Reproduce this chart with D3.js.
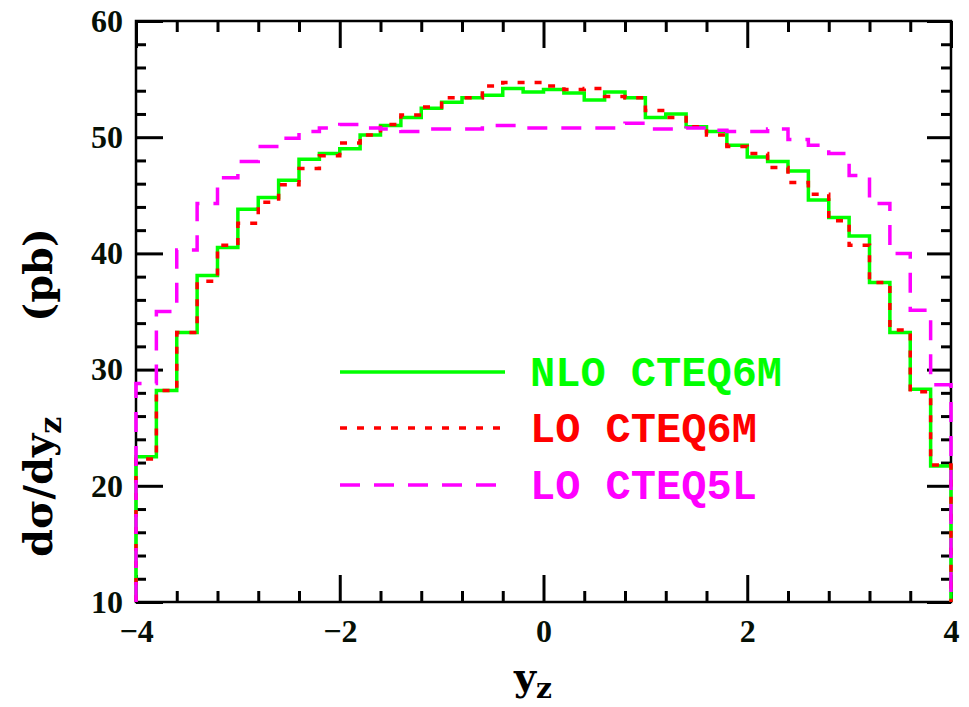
<!DOCTYPE html>
<html lang="en">
<head>
<meta charset="UTF-8">
<title>dsigma/dyz</title>
<style>
    body { margin: 0; background: #fff; }
    .tick text { font-family: "Liberation Serif", serif; font-weight: bold; font-size: 32px; fill: #061006; }
    .legend text { font-family: "Liberation Mono", monospace; font-weight: bold; font-size: 42px; }
    .title { font-family: "DejaVu Serif", serif; font-weight: bold; fill: #000; }
</style>
<script src="https://d3js.org/d3.v7.min.js"></script>
</head>
<body>
<div id="chart"></div>
<script>
    // bin edges in y_Z
    const binEdges = [-4.0, -3.8, -3.6, -3.4, -3.2, -3.0, -2.8, -2.6, -2.4, -2.2, -2.0,
                      -1.8, -1.6, -1.4, -1.2, -1.0, -0.8, -0.6, -0.4, -0.2, 0.0,
                      0.2, 0.4, 0.6, 0.8, 1.0, 1.2, 1.4, 1.6, 1.8, 2.0,
                      2.2, 2.4, 2.6, 2.8, 3.0, 3.2, 3.4, 3.6, 3.8, 4.0];

    // d sigma / d y_Z (pb) per bin
    const nloCteq6m = [22.5, 28.2, 33.2, 38.1, 40.5, 43.8, 44.8, 46.3, 48.1, 48.6,
                       49.0, 50.2, 51.0, 51.7, 52.5, 53.0, 53.4, 53.6, 54.2, 53.9,
                       54.1, 53.8, 53.2, 53.9, 53.4, 51.7, 52.0, 50.9, 50.5, 49.3,
                       48.3, 47.9, 47.1, 44.6, 43.1, 41.5, 37.5, 33.2, 28.3, 21.7];
    const loCteq6m  = [22.3, 28.2, 33.2, 37.6, 40.7, 42.6, 44.4, 45.9, 47.3, 48.4,
                       49.5, 50.2, 51.1, 51.9, 52.6, 53.4, 53.4, 54.4, 54.7, 54.7,
                       54.4, 54.1, 54.2, 53.5, 53.4, 52.3, 51.7, 50.9, 50.2, 49.2,
                       48.6, 47.4, 46.1, 45.1, 42.8, 40.7, 37.5, 33.4, 28.1, 21.8];
    const loCteq5l  = [28.8, 35.0, 40.3, 44.3, 46.5, 47.9, 49.2, 49.9, 50.5, 50.8,
                       51.1, 50.8, 50.7, 50.5, 50.7, 50.7, 50.7, 51.0, 51.0, 50.8,
                       50.8, 50.8, 50.8, 50.8, 51.2, 50.7, 50.7, 50.8, 50.6, 50.5,
                       50.5, 50.7, 49.8, 49.3, 48.6, 46.7, 44.3, 40.0, 35.1, 28.7];

    const seriesNames = ["NLO CTEQ6M", "LO CTEQ6M", "LO CTEQ5L"];

    const xMajor = [-4, -2, 0, 2, 4];
    const xMinor = [-3.6, -3.2, -2.8, -2.4, -1.6, -1.2, -0.8, -0.4, 0.4, 0.8, 1.2, 1.6, 2.4, 2.8, 3.2, 3.6];
    const yMajor = [10, 20, 30, 40, 50, 60];
    const yMinor = [12, 14, 16, 18, 22, 24, 26, 28, 32, 34, 36, 38, 42, 44, 46, 48, 52, 54, 56, 58];

    const W = 969, H = 707;
    const plotL = 136, plotR = 951, plotT = 21, plotB = 602;

    const svg = d3.select("#chart").append("svg")
        .attr("width", W)
        .attr("height", H);

    const x = d3.scaleLinear().domain([-4, 4]).range([plotL, plotR]);
    const y = d3.scaleLinear().domain([10, 60]).range([plotB, plotT]);

    // ticks, all pointing inward
    function tickGroup(axis, tx, ty) {
        const g = svg.append("g").attr("transform", `translate(${tx},${ty})`).call(axis);
        g.select(".domain").remove();
        g.selectAll(".tick line").attr("stroke", "#000").attr("stroke-width", 3);
        return g;
    }
    tickGroup(d3.axisBottom(x).tickValues(xMajor).tickSize(-27).tickPadding(17)
        .tickFormat(d3.format("d")), 0, plotB);
    tickGroup(d3.axisBottom(x).tickValues(xMinor).tickSize(-11).tickFormat(""), 0, plotB);
    tickGroup(d3.axisTop(x).tickValues(xMajor).tickSize(-27).tickFormat(""), 0, plotT);
    tickGroup(d3.axisTop(x).tickValues(xMinor).tickSize(-11).tickFormat(""), 0, plotT);
    tickGroup(d3.axisLeft(y).tickValues(yMajor).tickSize(-27).tickPadding(13)
        .tickFormat(d3.format("d")), plotL, 0);
    tickGroup(d3.axisLeft(y).tickValues(yMinor).tickSize(-10).tickFormat(""), plotL, 0);
    tickGroup(d3.axisRight(y).tickValues(yMajor).tickSize(-24).tickFormat(""), plotR, 0);
    tickGroup(d3.axisRight(y).tickValues(yMinor).tickSize(-10).tickFormat(""), plotR, 0);

    // frame
    svg.append("rect")
        .attr("x", plotL).attr("y", plotT)
        .attr("width", plotR - plotL).attr("height", plotB - plotT)
        .attr("fill", "none").attr("stroke", "#000").attr("stroke-width", 2.5);

    // histogram step paths
    const yBase = y.domain()[0];
    function stepPoints(vals) {
        const pts = [[binEdges[0], yBase]];
        vals.forEach((v, i) => {
            pts.push([binEdges[i], v]);
            pts.push([binEdges[i + 1], v]);
        });
        pts.push([binEdges[binEdges.length - 1], yBase]);
        return pts;
    }
    const line = d3.line().x(d => x(d[0])).y(d => y(d[1]));

    const styles = [
        { color: "#00ff00", dash: null },
        { color: "#ff0000", dash: "7,10" },
        { color: "#ff00ff", dash: "20,14" }
    ];
    [nloCteq6m, loCteq6m, loCteq5l].forEach((vals, i) => {
        svg.append("path")
            .attr("d", line(stepPoints(vals)))
            .attr("fill", "none")
            .attr("stroke", styles[i].color)
            .attr("stroke-width", 3.5)
            .attr("stroke-dasharray", styles[i].dash);
    });

    // legend
    const legend = svg.append("g").attr("class", "legend");
    const legY = [372, 428, 485];
    seriesNames.forEach((name, i) => {
        legend.append("line")
            .attr("x1", 340).attr("x2", 505)
            .attr("y1", legY[i]).attr("y2", legY[i])
            .attr("stroke", styles[i].color)
            .attr("stroke-width", 3.5)
            .attr("stroke-dasharray", styles[i].dash);
        legend.append("text")
            .attr("x", 530).attr("y", legY[i] + 14)
            .attr("fill", styles[i].color)
            .text(name);
    });

    // axis titles
    const xt = svg.append("text").attr("class", "title")
        .attr("x", 533).attr("y", 690)
        .attr("text-anchor", "middle")
        .style("font-size", "38px");
    xt.append("tspan").text("y");
    xt.append("tspan").attr("dy", 8).style("font-size", "28px").text("z");

    // y title: two pieces pinned at both ends
    const yt = svg.append("text").attr("class", "title")
        .attr("transform", "translate(52,557) rotate(-90)")
        .attr("text-anchor", "start")
        .style("font-size", "40px");
    yt.append("tspan").text("dσ/dy");
    yt.append("tspan").attr("dy", 9).style("font-size", "30px").text("z");

    svg.append("text").attr("class", "title")
        .attr("transform", "translate(52,228) rotate(-90)")
        .attr("text-anchor", "end")
        .style("font-size", "40px")
        .text("(pb)");
</script>
</body>
</html>
